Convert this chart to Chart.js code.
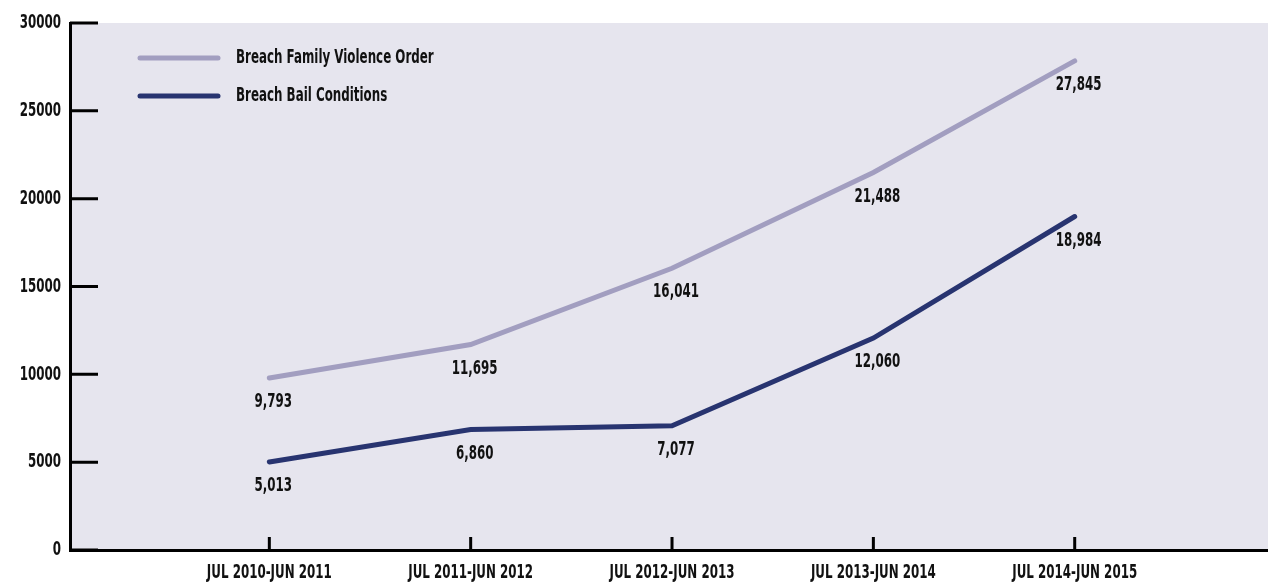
<!DOCTYPE html>
<html>
<head>
<meta charset="utf-8">
<script src="https://cdn.jsdelivr.net/npm/chart.js@4/dist/chart.umd.min.js"></script>
<style>
  html, body { margin: 0; padding: 0; background: #fff; }
  #wrap { width: 1268px; height: 585px; }
</style>
</head>
<body>
<div id="wrap"><canvas id="breachChart" width="1268" height="585"></canvas></div>
<script>
// Financial years
const periods = ['JUL 2010-JUN 2011', 'JUL 2011-JUN 2012', 'JUL 2012-JUN 2013', 'JUL 2013-JUN 2014', 'JUL 2014-JUN 2015'];

// Offences recorded per year
const familyViolenceOrder = [9793, 11695, 16041, 21488, 27845];
const bailConditions = [5013, 6860, 7077, 12060, 18984];

const yTicks = [0, 5000, 10000, 15000, 20000, 25000, 30000];

const FONT = "bold 20px 'DejaVu Sans Condensed', 'DejaVu Sans', sans-serif";
const SQUEEZE = 0.66;   // horizontal squeeze for a tall, narrow look
const ctx = document.getElementById('breachChart').getContext('2d');

const toPoints = arr => arr.map((v, i) => ({ x: i + 1, y: v }));

// draw text squeezed horizontally, anchored at (x, y)
function narrowText(c, text, x, y, align) {
    c.save();
    c.translate(x, y);
    c.scale(SQUEEZE, 1);
    c.textAlign = align;
    c.fillText(text, 0, 0);
    c.restore();
}

// Shaded plot background
const plotBg = {
    id: 'plotBg',
    beforeDraw(chart) {
        const { ctx, chartArea: a } = chart;
        ctx.save();
        ctx.fillStyle = '#e6e5ee';
        ctx.fillRect(a.left, a.top, a.right - a.left, a.bottom - a.top);
        ctx.restore();
    }
};

// Inward tick marks and the axis labels
const axisDecor = {
    id: 'axisDecor',
    afterDraw(chart) {
        const { ctx, chartArea: a, scales } = chart;
        ctx.save();
        ctx.strokeStyle = '#000';
        ctx.lineWidth = 3;
        ctx.beginPath();
        scales.y.ticks.forEach(t => {
            const py = scales.y.getPixelForValue(t.value);
            ctx.moveTo(a.left, py);
            ctx.lineTo(a.left + 28, py);
        });
        scales.x.ticks.forEach(t => {
            const px = scales.x.getPixelForValue(t.value);
            ctx.moveTo(px, a.bottom);
            ctx.lineTo(px, a.bottom - 13);
        });
        ctx.stroke();

        ctx.fillStyle = '#111';
        ctx.font = FONT;
        ctx.textBaseline = 'middle';
        scales.y.ticks.forEach(t => {
            narrowText(ctx, String(t.value), a.left - 9, scales.y.getPixelForValue(t.value), 'right');
        });
        scales.x.ticks.forEach(t => {
            narrowText(ctx, periods[t.value - 1], scales.x.getPixelForValue(t.value), a.bottom + 23, 'center');
        });
        ctx.restore();
    }
};

// Value labels under each point, plus the legend in the top-left corner
const labelsAndLegend = {
    id: 'labelsAndLegend',
    afterDatasetsDraw(chart) {
        const { ctx, chartArea: a } = chart;
        ctx.save();
        ctx.fillStyle = '#111';
        ctx.font = FONT;
        ctx.textBaseline = 'middle';
        chart.data.datasets.forEach((ds, di) => {
            chart.getDatasetMeta(di).data.forEach((pt, i) => {
                narrowText(ctx, ds.data[i].y.toLocaleString('en-US'), pt.x + 4, pt.y + 24, 'center');
            });
        });

        chart.data.datasets.forEach((ds, di) => {
            const y = a.top + 35 + di * 38;
            ctx.strokeStyle = ds.borderColor;
            ctx.lineWidth = 5;
            ctx.lineCap = 'round';
            ctx.beginPath();
            ctx.moveTo(a.left + 70, y);
            ctx.lineTo(a.left + 148, y);
            ctx.stroke();
            narrowText(ctx, ds.label, a.left + 166, y, 'left');
        });
        ctx.restore();
    }
};

new Chart(ctx, {
    type: 'line',
    data: {
        datasets: [
            {
                label: 'Breach Family Violence Order',
                data: toPoints(familyViolenceOrder),
                borderColor: '#a29ec0',
                borderWidth: 5,
                borderCapStyle: 'round',
                pointRadius: 0,
                tension: 0
            },
            {
                label: 'Breach Bail Conditions',
                data: toPoints(bailConditions),
                borderColor: '#283470',
                borderWidth: 5,
                borderCapStyle: 'round',
                pointRadius: 0,
                tension: 0
            }
        ]
    },
    options: {
        responsive: false,
        animation: false,
        layout: { padding: { top: 23, right: 0, left: 0, bottom: 0 } },
        plugins: {
            legend: { display: false },
            tooltip: { enabled: false }
        },
        scales: {
            x: {
                type: 'linear',
                min: 0.01,
                max: 5.96,
                afterBuildTicks: scale => { scale.ticks = periods.map((p, i) => ({ value: i + 1 })); },
                afterFit: scale => { scale.height = 35; },
                border: { color: '#000', width: 3 },
                grid: { display: false, drawTicks: false },
                ticks: { display: false }
            },
            y: {
                min: 0,
                max: 30000,
                afterBuildTicks: scale => { scale.ticks = yTicks.map(v => ({ value: v })); },
                afterFit: scale => { scale.width = 70; },
                border: { color: '#000', width: 3 },
                grid: { display: false, drawTicks: false },
                ticks: { display: false }
            }
        }
    },
    plugins: [plotBg, axisDecor, labelsAndLegend]
});
</script>
</body>
</html>
